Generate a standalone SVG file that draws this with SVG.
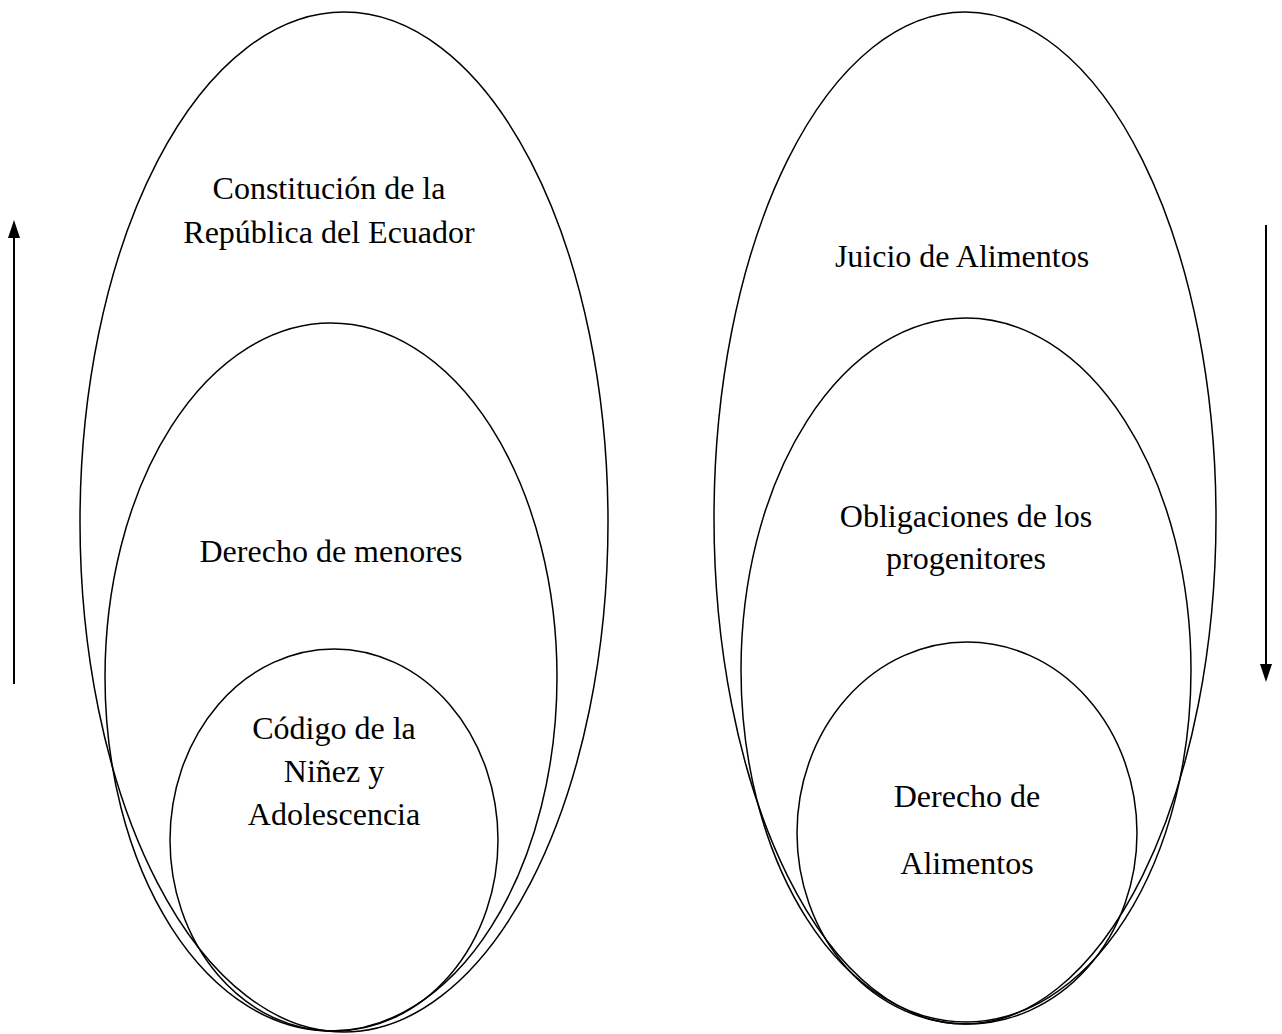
<svg xmlns="http://www.w3.org/2000/svg" width="1282" height="1034" viewBox="0 0 1282 1034">
<defs>
<style>
.e{fill:none;stroke:#000;stroke-width:1.5}
.t{font-family:"Liberation Serif","Times New Roman",serif;font-size:32px;fill:#000;text-anchor:middle}
.a{stroke:#000;stroke-width:2;fill:none}
</style>
</defs>
<rect width="1282" height="1034" fill="#fff"/>
<g id="left-big"><ellipse class="e" cx="344" cy="522" rx="264" ry="510"/>
<text class="t" x="329" y="199">Constitución de la</text>
<text class="t" x="329" y="243">República del Ecuador</text></g>
<g id="left-mid"><ellipse class="e" cx="331" cy="677" rx="226" ry="354"/>
<text class="t" x="331" y="562">Derecho de menores</text></g>
<g id="left-small"><ellipse class="e" cx="334" cy="840" rx="164" ry="191"/>
<text class="t" x="334" y="739">Código de la</text>
<text class="t" x="334" y="782">Niñez y</text>
<text class="t" x="334" y="825">Adolescencia</text></g>
<g id="right-big"><ellipse class="e" cx="965" cy="518" rx="251" ry="506"/>
<text class="t" x="962" y="267">Juicio de Alimentos</text></g>
<g id="right-mid"><ellipse class="e" cx="966" cy="670" rx="225" ry="352"/>
<text class="t" x="966" y="527">Obligaciones de los</text>
<text class="t" x="966" y="569">progenitores</text></g>
<g id="right-small"><ellipse class="e" cx="967" cy="833" rx="170" ry="191"/>
<text class="t" x="967" y="807">Derecho de</text>
<text class="t" x="967" y="874">Alimentos</text></g>
<g id="connectors">
<line class="a" x1="14" y1="684" x2="14" y2="236"/>
<path d="M8,238 L14,220 L20,238 Z" fill="#000"/>
<line class="a" x1="1266" y1="225" x2="1266" y2="666"/>
<path d="M1260,664 L1266,682 L1272,664 Z" fill="#000"/>
</g>
</svg>
